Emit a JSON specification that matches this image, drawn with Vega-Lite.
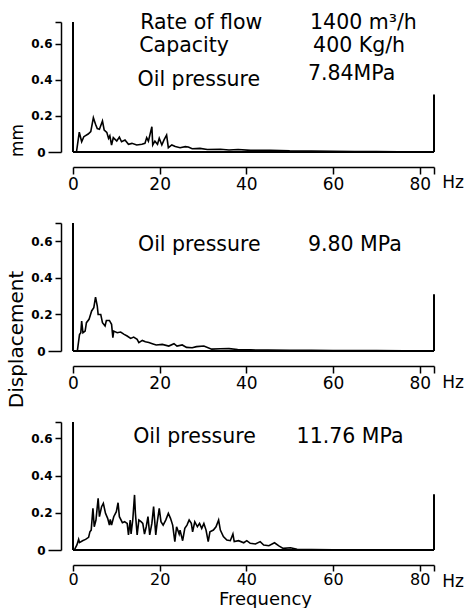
{
  "$schema": "https://vega.github.io/schema/vega-lite/v6.json",
  "background": "white",
  "padding": {"left": 6, "top": 13, "right": 0, "bottom": 0},
  "bounds": "flush",
  "spacing": 71,
  "config": {
    "view": {"stroke": null},
    "font": "DejaVu Sans",
    "axis": {"domainColor": "black", "domainWidth": 1.5, "tickColor": "black", "tickWidth": 1.5, "labelColor": "black", "titleColor": "black", "grid": false, "labelFont": "DejaVu Sans", "titleFont": "DejaVu Sans", "titleFontWeight": "normal", "labelFlush": false, "labelOverlap": false, "labelBound": false},
    "axisX": {"offset": 15, "tickSize": 7, "labelPadding": 2, "labelFontSize": 17, "labelFontWeight": "normal"},
    "axisY": {"offset": 12, "labelFontSize": 12, "labelFontWeight": "bold", "labelPadding": 3, "titlePadding": 4},
    "text": {"font": "DejaVu Sans", "fontSize": 20.5, "align": "left", "baseline": "alphabetic", "color": "black"},
    "line": {"color": "black", "strokeWidth": 1.6},
    "rule": {"color": "black", "strokeWidth": 2}
  },
  "datasets": {
    "spec1": [
      {"f":0,"v":0},{"f":0.8,"v":0},{"f":1.45,"v":0.11},{"f":2.0,"v":0.057},{"f":2.5,"v":0.085},{"f":3.5,"v":0.10},{"f":4.1,"v":0.113},{"f":4.7,"v":0.19},{"f":5.2,"v":0.154},{"f":5.6,"v":0.13},{"f":6.1,"v":0.126},{"f":6.8,"v":0.172},{"f":7.2,"v":0.122},{"f":7.8,"v":0.109},{"f":8.2,"v":0.076},{"f":8.5,"v":0.09},{"f":8.9,"v":0.039},{"f":9.3,"v":0.08},{"f":10.1,"v":0.061},{"f":10.7,"v":0.083},{"f":11.2,"v":0.057},{"f":12.0,"v":0.067},{"f":12.8,"v":0.043},{"f":13.6,"v":0.048},{"f":14.7,"v":0.039},{"f":15.9,"v":0.043},{"f":16.6,"v":0.048},{"f":17.0,"v":0.08},{"f":17.4,"v":0.06},{"f":18.2,"v":0.14},{"f":18.4,"v":0.039},{"f":18.9,"v":0.06},{"f":19.5,"v":0.043},{"f":19.9,"v":0.076},{"f":20.5,"v":0.039},{"f":21.0,"v":0.067},{"f":21.6,"v":0.094},{"f":22.0,"v":0.024},{"f":22.8,"v":0.039},{"f":23.6,"v":0.03},{"f":24.7,"v":0.024},{"f":25.9,"v":0.03},{"f":26.6,"v":0.028},{"f":27.5,"v":0.018},{"f":29.3,"v":0.02},{"f":31,"v":0.014},{"f":34,"v":0.015},{"f":36,"v":0.011},{"f":38.1,"v":0.014},{"f":41,"v":0.009},{"f":45.5,"v":0.01},{"f":50,"v":0.006},{"f":55,"v":0.005},{"f":60,"v":0.004},{"f":65,"v":0.003},{"f":70,"v":0.002},{"f":75,"v":0.001},{"f":83,"v":0}
    ],
    "spec2": [
      {"f":0,"v":0},{"f":1.0,"v":0},{"f":1.5,"v":0.09},{"f":1.8,"v":0.1},{"f":2.0,"v":0.164},{"f":2.3,"v":0.1},{"f":2.8,"v":0.109},{"f":3.1,"v":0.155},{"f":3.7,"v":0.173},{"f":4.3,"v":0.219},{"f":4.8,"v":0.237},{"f":5.2,"v":0.295},{"f":5.6,"v":0.246},{"f":5.8,"v":0.2},{"f":6.4,"v":0.2},{"f":6.8,"v":0.155},{"f":7.4,"v":0.137},{"f":7.7,"v":0.167},{"f":8.4,"v":0.167},{"f":8.9,"v":0.146},{"f":9.2,"v":0.073},{"f":9.4,"v":0.109},{"f":10.2,"v":0.1},{"f":11.0,"v":0.104},{"f":11.8,"v":0.091},{"f":12.5,"v":0.082},{"f":13.3,"v":0.069},{"f":14.0,"v":0.076},{"f":14.8,"v":0.064},{"f":15.2,"v":0.046},{"f":16.0,"v":0.058},{"f":16.7,"v":0.051},{"f":17.5,"v":0.046},{"f":18.3,"v":0.04},{"f":19.2,"v":0.033},{"f":20.6,"v":0.036},{"f":22.1,"v":0.027},{"f":23.3,"v":0.04},{"f":24.0,"v":0.027},{"f":25.2,"v":0.033},{"f":26.2,"v":0.02},{"f":27.5,"v":0.018},{"f":28.5,"v":0.024},{"f":30.2,"v":0.027},{"f":32,"v":0.01},{"f":34,"v":0.012},{"f":36,"v":0.013},{"f":38,"v":0.008},{"f":41,"v":0.006},{"f":45,"v":0.005},{"f":50,"v":0.004},{"f":55,"v":0.004},{"f":60,"v":0.003},{"f":70,"v":0.002},{"f":83,"v":0}
    ],
    "spec3": [
      {"f":0,"v":0},{"f":0.3,"v":0},{"f":0.9,"v":0.027},{"f":1.3,"v":0.057},{"f":1.5,"v":0.04},{"f":2.2,"v":0.05},{"f":2.9,"v":0.057},{"f":3.6,"v":0.068},{"f":3.9,"v":0.098},{"f":4.2,"v":0.107},{"f":4.6,"v":0.224},{"f":4.9,"v":0.125},{"f":5.3,"v":0.161},{"f":5.8,"v":0.278},{"f":6.1,"v":0.179},{"f":6.6,"v":0.233},{"f":7.0,"v":0.251},{"f":7.5,"v":0.197},{"f":8.0,"v":0.17},{"f":8.4,"v":0.134},{"f":8.6,"v":0.165},{"f":8.9,"v":0.134},{"f":9.4,"v":0.179},{"f":10.0,"v":0.206},{"f":10.4,"v":0.254},{"f":10.7,"v":0.179},{"f":11.4,"v":0.147},{"f":11.9,"v":0.152},{"f":12.5,"v":0.143},{"f":12.8,"v":0.081},{"f":13.2,"v":0.161},{"f":13.4,"v":0.086},{"f":13.8,"v":0.165},{"f":14.2,"v":0.296},{"f":14.4,"v":0.197},{"f":14.8,"v":0.081},{"f":15.2,"v":0.161},{"f":15.7,"v":0.152},{"f":16.1,"v":0.143},{"f":16.5,"v":0.086},{"f":16.9,"v":0.125},{"f":17.3,"v":0.179},{"f":17.7,"v":0.081},{"f":18.2,"v":0.143},{"f":18.6,"v":0.233},{"f":19.1,"v":0.081},{"f":19.4,"v":0.143},{"f":19.9,"v":0.224},{"f":20.3,"v":0.152},{"f":20.8,"v":0.134},{"f":21.4,"v":0.161},{"f":22.0,"v":0.197},{"f":22.5,"v":0.17},{"f":23.0,"v":0.134},{"f":23.5,"v":0.045},{"f":23.9,"v":0.125},{"f":24.5,"v":0.086},{"f":24.7,"v":0.107},{"f":25.3,"v":0.05},{"f":25.8,"v":0.116},{"f":26.3,"v":0.134},{"f":26.8,"v":0.161},{"f":27.3,"v":0.143},{"f":27.6,"v":0.098},{"f":28.1,"v":0.152},{"f":28.7,"v":0.125},{"f":29.2,"v":0.143},{"f":29.7,"v":0.116},{"f":30.2,"v":0.143},{"f":30.7,"v":0.107},{"f":31.2,"v":0.045},{"f":31.6,"v":0.098},{"f":32.4,"v":0.107},{"f":33.0,"v":0.125},{"f":33.6,"v":0.161},{"f":34.0,"v":0.107},{"f":34.7,"v":0.072},{"f":35.5,"v":0.054},{"f":36.3,"v":0.05},{"f":36.9,"v":0.086},{"f":37.2,"v":0.045},{"f":38.2,"v":0.05},{"f":39.4,"v":0.039},{"f":40.1,"v":0.05},{"f":40.9,"v":0.036},{"f":42.1,"v":0.032},{"f":43.2,"v":0.045},{"f":44.0,"v":0.027},{"f":45.2,"v":0.023},{"f":46.5,"v":0.039},{"f":47.5,"v":0.022},{"f":48.5,"v":0.009},{"f":50.2,"v":0.012},{"f":51.7,"v":0.004},{"f":55,"v":0.002},{"f":60,"v":0.001},{"f":83,"v":0}
    ],
    "frame1": [{"f":0,"f2":0,"v":0,"v2":0.722},{"f":0,"f2":83.3,"v":0,"v2":0},{"f":83.3,"f2":83.3,"v":0,"v2":0.32}],
    "frame2": [{"f":0,"f2":0,"v":0,"v2":0.70},{"f":0,"f2":83.3,"v":0,"v2":0},{"f":83.3,"f2":83.3,"v":0,"v2":0.31}],
    "frame3": [{"f":0,"f2":0,"v":0,"v2":0.688},{"f":0,"f2":83.3,"v":0,"v2":0},{"f":83.3,"f2":83.3,"v":0,"v2":0.30}],
    "notes1": [
      {"label":"Rate of flow","f":15.5,"v":0.681},{"label":"1400 m³/h","f":54.7,"v":0.681},
      {"label":"Capacity","f":15.3,"v":0.556},{"label":"400 Kg/h","f":55.4,"v":0.556},
      {"label":"Oil pressure","f":14.9,"v":0.367},{"label":"7.84MPa","f":54.2,"v":0.40}
    ],
    "notes2": [{"label":"Oil pressure","f":15.0,"v":0.548},{"label":"9.80 MPa","f":54.2,"v":0.548}],
    "notes3": [{"label":"Oil pressure","f":13.9,"v":0.574},{"label":"11.76 MPa","f":51.6,"v":0.574}],
    "hz": [{"label":"Hz","f":85.2,"v":-0.2}]
  },
  "vconcat": [
    {
      "width": 361, "height": 130,
      "encoding": {
        "x": {"field": "f", "type": "quantitative", "scale": {"domain": [0, 83.3], "nice": false, "zero": false}, "axis": {"title": null, "values": [0,20,40,60,80,83.3], "labelExpr": "datum.value > 81 ? '' : format(datum.value, 'd')"}},
        "y": {"field": "v", "type": "quantitative", "scale": {"domain": [0, 0.722], "nice": false, "zero": false}, "axis": {"title": "mm", "titleFontSize": 17, "titleY": 118, "values": [0,0.2,0.4,0.6,0.722], "tickSize": {"condition": {"test": "datum.value === 0", "value": 13}, "value": 6}, "labelExpr": "datum.value === 0 ? '0' : datum.value > 0.65 ? '' : format(datum.value, '.1f')"}}
      },
      "layer": [
        {"data": {"name": "frame1"}, "mark": "rule", "encoding": {"x2": {"field": "f2"}, "y2": {"field": "v2"}}},
        {"data": {"name": "spec1"}, "mark": "line", "encoding": {}},
        {"data": {"name": "notes1"}, "mark": "text", "encoding": {"text": {"field": "label"}}},
        {"data": {"name": "hz"}, "mark": {"type": "text", "fontSize": 17}, "encoding": {"text": {"field": "label"}}}
      ]
    },
    {
      "width": 361, "height": 128,
      "encoding": {
        "x": {"field": "f", "type": "quantitative", "scale": {"domain": [0, 83.3], "nice": false, "zero": false}, "axis": {"title": null, "values": [0,20,40,60,80,83.3], "labelExpr": "datum.value > 81 ? '' : format(datum.value, 'd')"}},
        "y": {"field": "v", "type": "quantitative", "scale": {"domain": [0, 0.70], "nice": false, "zero": false}, "axis": {"title": "Displacement", "titleFontSize": 20, "titleY": 116, "values": [0,0.2,0.4,0.6,0.70], "tickSize": {"condition": {"test": "datum.value === 0", "value": 13}, "value": 6}, "labelExpr": "datum.value === 0 ? '0' : datum.value > 0.65 ? '' : format(datum.value, '.1f')"}}
      },
      "layer": [
        {"data": {"name": "frame2"}, "mark": "rule", "encoding": {"x2": {"field": "f2"}, "y2": {"field": "v2"}}},
        {"data": {"name": "spec2"}, "mark": "line", "encoding": {}},
        {"data": {"name": "notes2"}, "mark": "text", "encoding": {"text": {"field": "label"}}},
        {"data": {"name": "hz"}, "mark": {"type": "text", "fontSize": 17}, "encoding": {"text": {"field": "label"}}}
      ]
    },
    {
      "width": 361, "height": 128,
      "encoding": {
        "x": {"field": "f", "type": "quantitative", "scale": {"domain": [0, 83.3], "nice": false, "zero": false}, "axis": {"title": "Frequency", "titleFontSize": 18, "titlePadding": 3, "titleX": 192, "tickSize": 6, "labelPadding": 0, "labelFontSize": 16, "values": [0,20,40,60,80,83.3], "labelExpr": "datum.value > 81 ? '' : format(datum.value, 'd')"}},
        "y": {"field": "v", "type": "quantitative", "scale": {"domain": [0, 0.688], "nice": false, "zero": false}, "axis": {"title": null, "values": [0,0.2,0.4,0.6,0.688], "tickSize": {"condition": {"test": "datum.value === 0", "value": 13}, "value": 6}, "labelExpr": "datum.value === 0 ? '0' : datum.value > 0.65 ? '' : format(datum.value, '.1f')"}}
      },
      "layer": [
        {"data": {"name": "frame3"}, "mark": "rule", "encoding": {"x2": {"field": "f2"}, "y2": {"field": "v2"}}},
        {"data": {"name": "spec3"}, "mark": "line", "encoding": {}},
        {"data": {"name": "notes3"}, "mark": "text", "encoding": {"text": {"field": "label"}}},
        {"data": {"name": "hz"}, "mark": {"type": "text", "fontSize": 17}, "encoding": {"text": {"field": "label"}}}
      ]
    }
  ]
}
